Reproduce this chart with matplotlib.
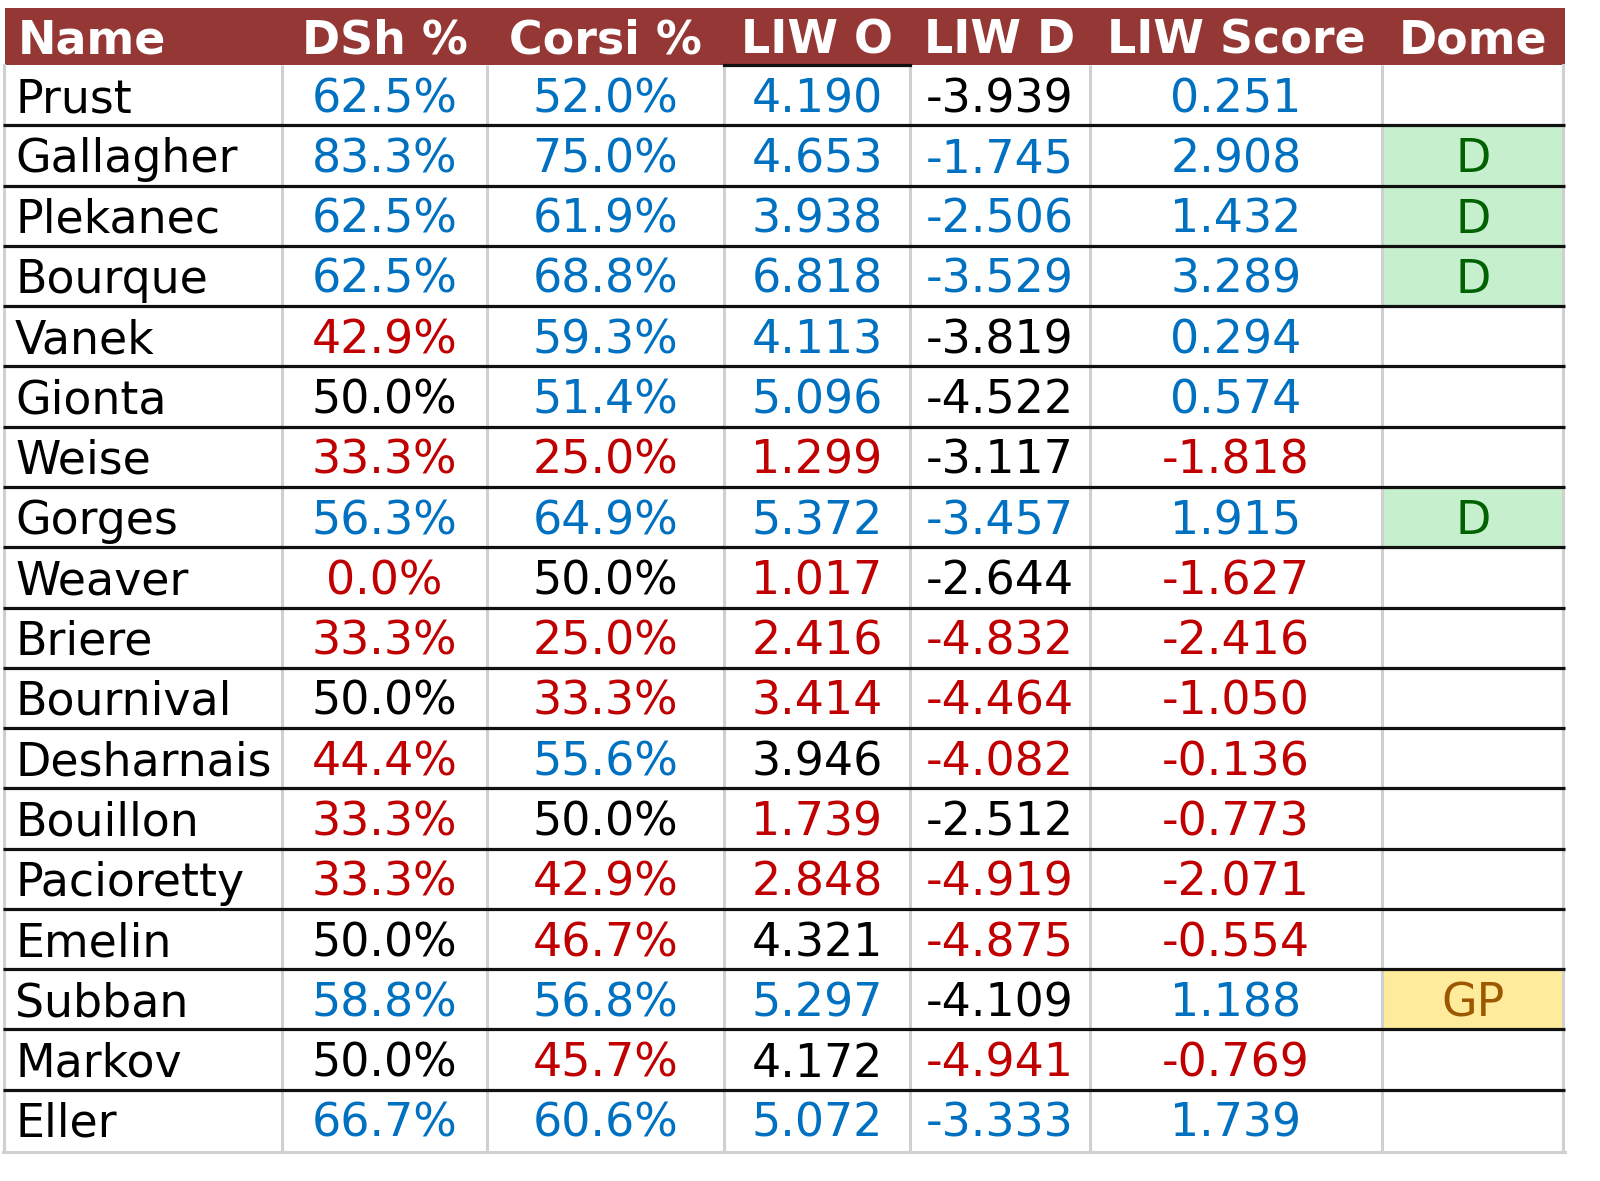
import matplotlib
matplotlib.use("Agg")
import matplotlib.pyplot as plt

# ---------------- data ----------------
columns = ["Name", "DSh %", "Corsi %", "LIW O", "LIW D", "LIW Score", "Dome"]
names = ["Prust", "Gallagher", "Plekanec", "Bourque", "Vanek", "Gionta", "Weise",
         "Gorges", "Weaver", "Briere", "Bournival", "Desharnais", "Bouillon",
         "Pacioretty", "Emelin", "Subban", "Markov", "Eller"]
dsh = [62.5, 83.3, 62.5, 62.5, 42.9, 50.0, 33.3, 56.3, 0.0, 33.3, 50.0, 44.4,
       33.3, 33.3, 50.0, 58.8, 50.0, 66.7]
corsi = [52.0, 75.0, 61.9, 68.8, 59.3, 51.4, 25.0, 64.9, 50.0, 25.0, 33.3, 55.6,
         50.0, 42.9, 46.7, 56.8, 45.7, 60.6]
liw_o = [4.190, 4.653, 3.938, 6.818, 4.113, 5.096, 1.299, 5.372, 1.017, 2.416,
         3.414, 3.946, 1.739, 2.848, 4.321, 5.297, 4.172, 5.072]
liw_d = [-3.939, -1.745, -2.506, -3.529, -3.819, -4.522, -3.117, -3.457, -2.644,
         -4.832, -4.464, -4.082, -2.512, -4.919, -4.875, -4.109, -4.941, -3.333]
liw_score = [0.251, 2.908, 1.432, 3.289, 0.294, 0.574, -1.818, 1.915, -1.627,
             -2.416, -1.050, -0.136, -0.773, -2.071, -0.554, 1.188, -0.769, 1.739]
# rating of LIW O / LIW D cells as highlighted in the source (+1 good, 0 neutral, -1 bad)
liw_o_rating = [1, 1, 1, 1, 1, 1, -1, 1, -1, -1, -1, 0, -1, -1, 0, 1, 0, 1]
liw_d_rating = [0, 1, 1, 1, 0, 0, 0, 1, 0, -1, -1, -1, 0, -1, -1, 0, -1, 1]
dome = ["", "D", "D", "D", "", "", "", "D", "", "", "", "", "", "", "", "GP", "", ""]

# ---------------- style ----------------
FONT = "DejaVu Sans"
FS = 33
HFS = 33

BLUE = "#0070C0"
RED = "#C00000"
BLACK = "#000000"
HEADER_BG = "#953735"
GRID = "#D0D0D0"
rating_color = {1: BLUE, 0: BLACK, -1: RED}

def sign_rating(v, thr):
    return 1 if v > thr else (-1 if v < thr else 0)

W, H = 1600, 1181
fig = plt.figure(figsize=(W / 100, H / 100), dpi=100)
ax = fig.add_axes([0, 0, 1, 1])
ax.set_xlim(0, W)
ax.set_ylim(H, 0)
ax.axis("off")

col_edges = [5, 282, 487, 724, 910, 1090, 1382, 1565]
header_top, header_bot = 8, 65
n = len(names)
row_h = (1150 - header_bot) / n
row_edges = [header_bot + i * row_h for i in range(n + 1)]
centers = [(col_edges[i] + col_edges[i + 1]) / 2 for i in range(len(col_edges) - 1)]

# header
ax.add_patch(plt.Rectangle((col_edges[0], header_top), col_edges[-1] - col_edges[0],
                           header_bot - header_top, facecolor=HEADER_BG, edgecolor="none", zorder=1))
hb = 53
for j, c in enumerate(columns):
    x = 18 if j == 0 else centers[j]
    ax.text(x, hb, c, ha="left" if j == 0 else "center", va="baseline", color="white",
            fontsize=HFS, fontweight="bold", family=FONT, zorder=5)

# dome fills
for i, d in enumerate(dome):
    if d:
        fc = "#C6EFCE" if d == "D" else "#FFEB9C"
        ax.add_patch(plt.Rectangle((col_edges[6], row_edges[i]), col_edges[7] - col_edges[6],
                                   row_h, facecolor=fc, edgecolor="none", zorder=1))

# grid lines
bottom = row_edges[-1] + 2
for x in col_edges[1:-1]:
    ax.plot([x, x], [header_bot, bottom], color=GRID, lw=2.2, zorder=2, solid_capstyle="butt")
ax.plot([col_edges[0] - 1, col_edges[0] - 1], [header_bot, bottom], color=GRID, lw=2.2, zorder=2)
ax.plot([col_edges[-1] - 2, col_edges[-1] - 2], [header_bot, bottom], color=GRID, lw=2.2, zorder=2)
ax.plot([col_edges[0] - 2, col_edges[-1]], [bottom, bottom], color=GRID, lw=2.2, zorder=2)
for y in row_edges[1:-1]:
    ax.plot([col_edges[0] - 2, col_edges[-1]], [y, y], color="#111111", lw=2.3, zorder=3,
            solid_capstyle="butt")
ax.plot([col_edges[3], col_edges[4]], [header_bot, header_bot], color="#111111", lw=2.3, zorder=3)

# cells
for i in range(n):
    yb = row_edges[i] + row_h / 2 + 17
    kw = dict(va="baseline", fontsize=FS, family=FONT, zorder=5)
    ax.text(15, yb, names[i], ha="left", color=BLACK, **kw)
    ax.text(centers[1], yb, f"{dsh[i]:.1f}%", ha="center",
            color=rating_color[sign_rating(dsh[i], 50)], **kw)
    ax.text(centers[2], yb, f"{corsi[i]:.1f}%", ha="center",
            color=rating_color[sign_rating(corsi[i], 50)], **kw)
    ax.text(centers[3], yb, f"{liw_o[i]:.3f}", ha="center",
            color=rating_color[liw_o_rating[i]], **kw)
    ax.text(centers[4], yb, f"{liw_d[i]:.3f}", ha="center",
            color=rating_color[liw_d_rating[i]], **kw)
    ax.text(centers[5], yb, f"{liw_score[i]:.3f}", ha="center",
            color=rating_color[sign_rating(liw_score[i], 0)], **kw)
    if dome[i]:
        ax.text(centers[6], yb, dome[i], ha="center",
                color="#006100" if dome[i] == "D" else "#9C5700", **kw)

fig.savefig("out.png", dpi=100, facecolor="white")
